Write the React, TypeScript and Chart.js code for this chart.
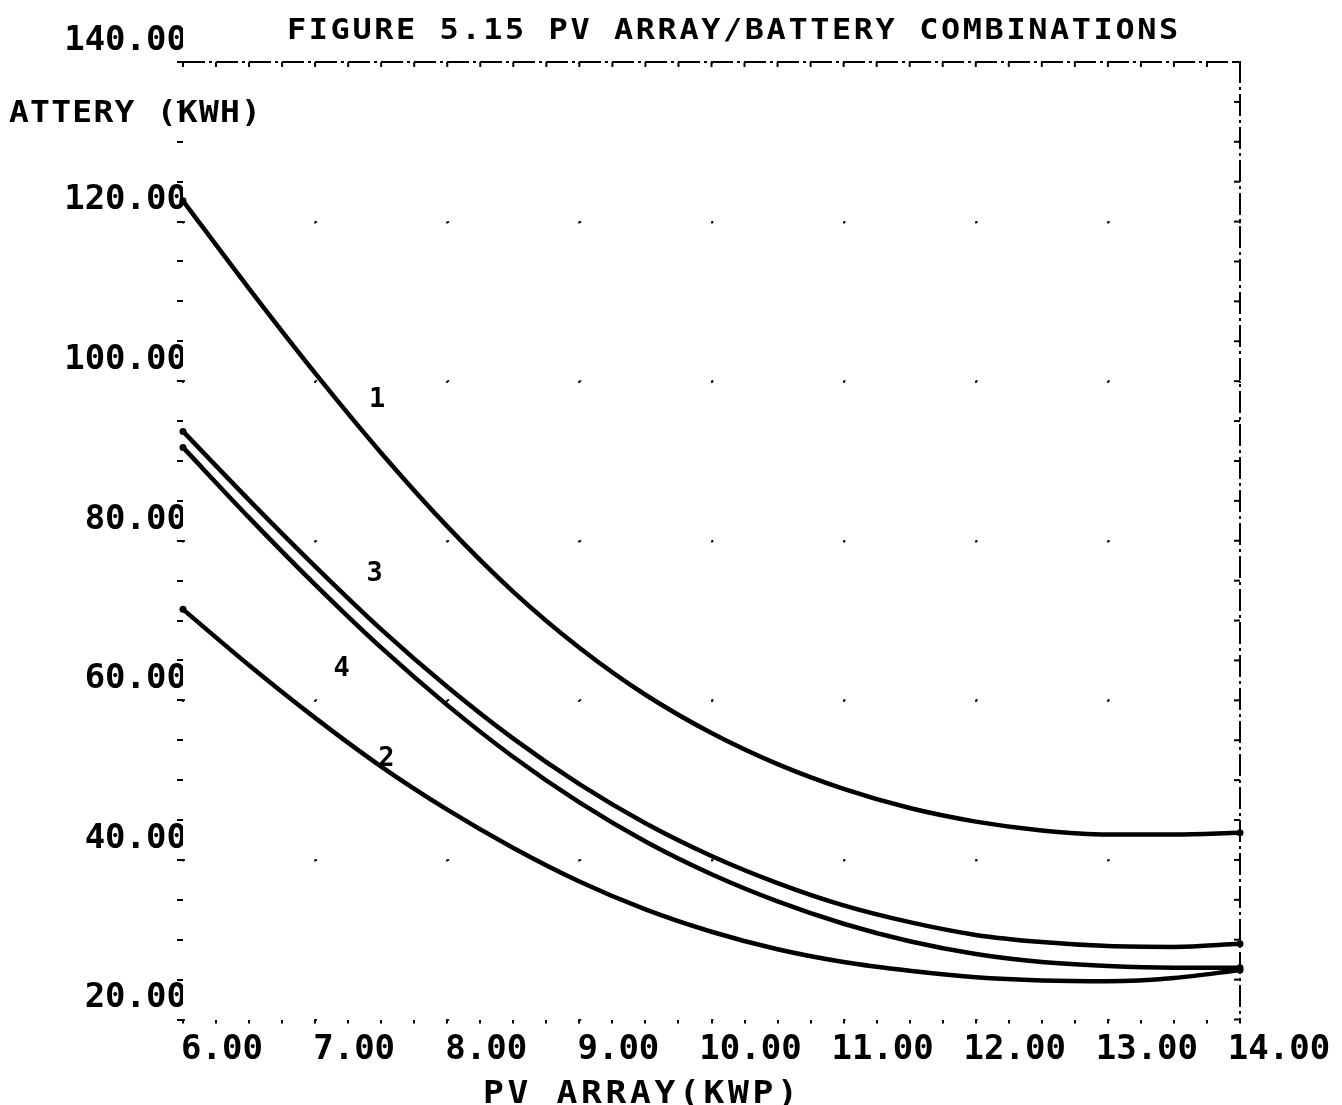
import React, { useEffect, useRef } from 'react';
import { Chart, registerables } from 'chart.js';

Chart.register(...registerables);

// ---- data ----
const PV_ARRAY_KWP = [6, 6.5, 7, 7.5, 8, 8.5, 9, 9.5, 10, 10.5, 11, 11.5, 12, 12.5, 13, 13.5, 14];
const CURVE_1 = [122.6, 111.6, 101.0, 91.0, 81.8, 73.6, 66.6, 60.7, 55.9, 52.0, 48.9, 46.5, 44.8, 43.7, 43.2, 43.2, 43.4];
const CURVE_2 = [71.4, 64.4, 57.8, 51.7, 46.3, 41.5, 37.3, 33.8, 31.0, 28.8, 27.2, 26.1, 25.3, 24.9, 24.8, 25.2, 26.2];
const CURVE_3 = [93.7, 85.1, 76.8, 68.9, 61.7, 55.2, 49.5, 44.6, 40.5, 37.1, 34.3, 32.2, 30.6, 29.7, 29.2, 29.1, 29.5];
const CURVE_4 = [91.7, 82.9, 74.5, 66.6, 59.4, 52.9, 47.2, 42.3, 38.2, 34.8, 32.0, 29.8, 28.2, 27.2, 26.7, 26.5, 26.5];

const CURVE_LABELS = ['1', '3', '4', '2'];
const CURVE_LABEL_X = [7.47, 7.45, 7.2, 7.54];
const CURVE_LABEL_Y = [97.6, 75.8, 63.9, 52.6];

const TITLE = 'FIGURE 5.15 PV ARRAY/BATTERY COMBINATIONS';
const Y_TITLE = 'ATTERY (KWH)';
const X_TITLE = 'PV ARRAY(KWP)';

const X_MIN = 6;
const X_MAX = 14;
const X_STEP = 0.25;
const Y_MIN = 20;
const Y_MAX = 140;
const Y_STEP = 5;
const Y_LABEL_STEP = 20;

// ---- styling ----
const FONT = "'DejaVu Sans Mono', 'Liberation Mono', monospace";
const INK = '#000000';

function drawSpaced(ctx: CanvasRenderingContext2D, text: string, x: number, y: number, size: number, pitch: number, sx: number) {
  ctx.save();
  ctx.font = `bold ${size}px ${FONT}`;
  (ctx as any).letterSpacing = '0px';
  const adv = ctx.measureText('M').width;
  const spacing = pitch / sx - adv;
  (ctx as any).letterSpacing = `${spacing}px`;
  ctx.textAlign = 'left';
  ctx.textBaseline = 'alphabetic';
  ctx.fillStyle = INK;
  ctx.translate(x, y);
  ctx.scale(sx, 1);
  ctx.fillText(text, 0, 0);
  ctx.restore();
}

const decorPlugin = {
  id: 'decor',
  afterDraw(chart: any) {
    const { ctx, chartArea, scales } = chart;
    const xs = scales.x;
    const ys = scales.y;
    ctx.save();
    // top and right frame
    ctx.strokeStyle = INK;
    ctx.lineWidth = 2;
    ctx.setLineDash([22, 4, 3, 4]);
    ctx.beginPath();
    ctx.moveTo(chartArea.left, chartArea.top);
    ctx.lineTo(chartArea.right, chartArea.top);
    ctx.lineTo(chartArea.right, chartArea.bottom);
    ctx.stroke();
    ctx.setLineDash([]);
    // inward ticks on top frame
    for (const t of xs.ticks) {
      const px = xs.getPixelForValue(t.value);
      ctx.beginPath();
      ctx.moveTo(px, chartArea.top);
      ctx.lineTo(px, chartArea.top + 5);
      ctx.stroke();
    }
    // inward ticks on right frame
    for (const t of ys.ticks) {
      const py = ys.getPixelForValue(t.value);
      ctx.beginPath();
      ctx.moveTo(chartArea.right - 6, py);
      ctx.lineTo(chartArea.right, py);
      ctx.stroke();
    }
    ctx.restore();

    // curve number labels
    ctx.save();
    ctx.font = `bold 27px ${FONT}`;
    ctx.fillStyle = INK;
    ctx.textAlign = 'center';
    ctx.textBaseline = 'middle';
    CURVE_LABELS.forEach((lab, i) => {
      ctx.fillText(lab, xs.getPixelForValue(CURVE_LABEL_X[i]), ys.getPixelForValue(CURVE_LABEL_Y[i]));
    });
    ctx.restore();

    // titles
    drawSpaced(ctx, TITLE, 287, 38.5, 29, 21.8, 1.1);
    drawSpaced(ctx, Y_TITLE, 9, 122, 30, 21.1, 1.1);
    drawSpaced(ctx, X_TITLE, 483, 1103, 31.5, 24.5, 1.1);
  },
};

function series(values: number[]) {
  return PV_ARRAY_KWP.map((x, i) => ({ x, y: values[i] }));
}

export default function App() {
  const canvasRef = useRef<HTMLCanvasElement | null>(null);

  useEffect(() => {
    if (!canvasRef.current) return;
    const lastIdx = PV_ARRAY_KWP.length - 1;
    const mkDataset = (label: string, values: number[]) => ({
      label,
      data: series(values),
      borderColor: INK,
      backgroundColor: INK,
      borderWidth: 4.5,
      borderCapStyle: 'round' as const,
      borderJoinStyle: 'round' as const,
      cubicInterpolationMode: 'monotone' as const,
      pointRadius: (c: any) => (c.dataIndex === 0 || c.dataIndex === lastIdx ? 3.5 : 0),
      pointBorderWidth: 0,
      pointBackgroundColor: INK,
      pointHoverRadius: 0,
      fill: false,
      clip: 10,
    });

    const chart = new Chart(canvasRef.current, {
      type: 'line',
      data: {
        datasets: [
          mkDataset('1', CURVE_1),
          mkDataset('2', CURVE_2),
          mkDataset('3', CURVE_3),
          mkDataset('4', CURVE_4),
        ],
      },
      options: {
        animation: false,
        responsive: true,
        maintainAspectRatio: false,
        devicePixelRatio: 1,
        layout: { padding: { top: 62, right: 102, bottom: 0, left: 0 } },
        plugins: {
          legend: { display: false },
          title: { display: false },
          tooltip: { enabled: false },
        },
        scales: {
          x: {
            type: 'linear',
            min: X_MIN,
            max: X_MAX,
            afterFit: (s: any) => {
              s.height = 85.5;
            },
            border: { display: false, dash: [2, 157.5] },
            grid: {
              color: (c: any) => (c.tick && Number.isInteger(c.tick.value) ? 'rgba(0,0,0,0.85)' : 'rgba(0,0,0,0)'),
              lineWidth: 2,
              tickColor: INK,
              tickLength: 4,
              tickWidth: 2,
            },
            ticks: {
              stepSize: X_STEP,
              autoSkip: false,
              maxRotation: 0,
              minRotation: 0,
              padding: 6,
              labelOffset: 39,
              color: INK,
              font: { family: FONT, size: 34, weight: 'bold' },
              callback: (v: any) => (Number.isInteger(Number(v)) ? Number(v).toFixed(2) : ''),
            },
          },
          y: {
            type: 'linear',
            min: Y_MIN,
            max: Y_MAX,
            afterFit: (s: any) => {
              s.width = 183;
            },
            border: { display: false, dash: [2, 130.1] },
            grid: {
              color: (c: any) => (c.tick && c.tick.value % Y_LABEL_STEP === 0 ? 'rgba(0,0,0,0.85)' : 'rgba(0,0,0,0)'),
              lineWidth: 2,
              tickColor: INK,
              tickLength: 6,
              tickWidth: 2,
            },
            ticks: {
              stepSize: Y_STEP,
              autoSkip: false,
              padding: -10,
              labelOffset: -21,
              color: INK,
              font: { family: FONT, size: 34, weight: 'bold' },
              callback: (v: any) => (Number(v) % Y_LABEL_STEP === 0 ? Number(v).toFixed(2) : ''),
            },
          },
        },
      },
      plugins: [decorPlugin],
    } as any);

    return () => {
      chart.destroy();
    };
  }, []);

  return (
    <div style={{ position: 'absolute', left: 0, top: 0, width: 1342, height: 1105, background: '#ffffff' }}>
      <canvas ref={canvasRef} />
    </div>
  );
}
